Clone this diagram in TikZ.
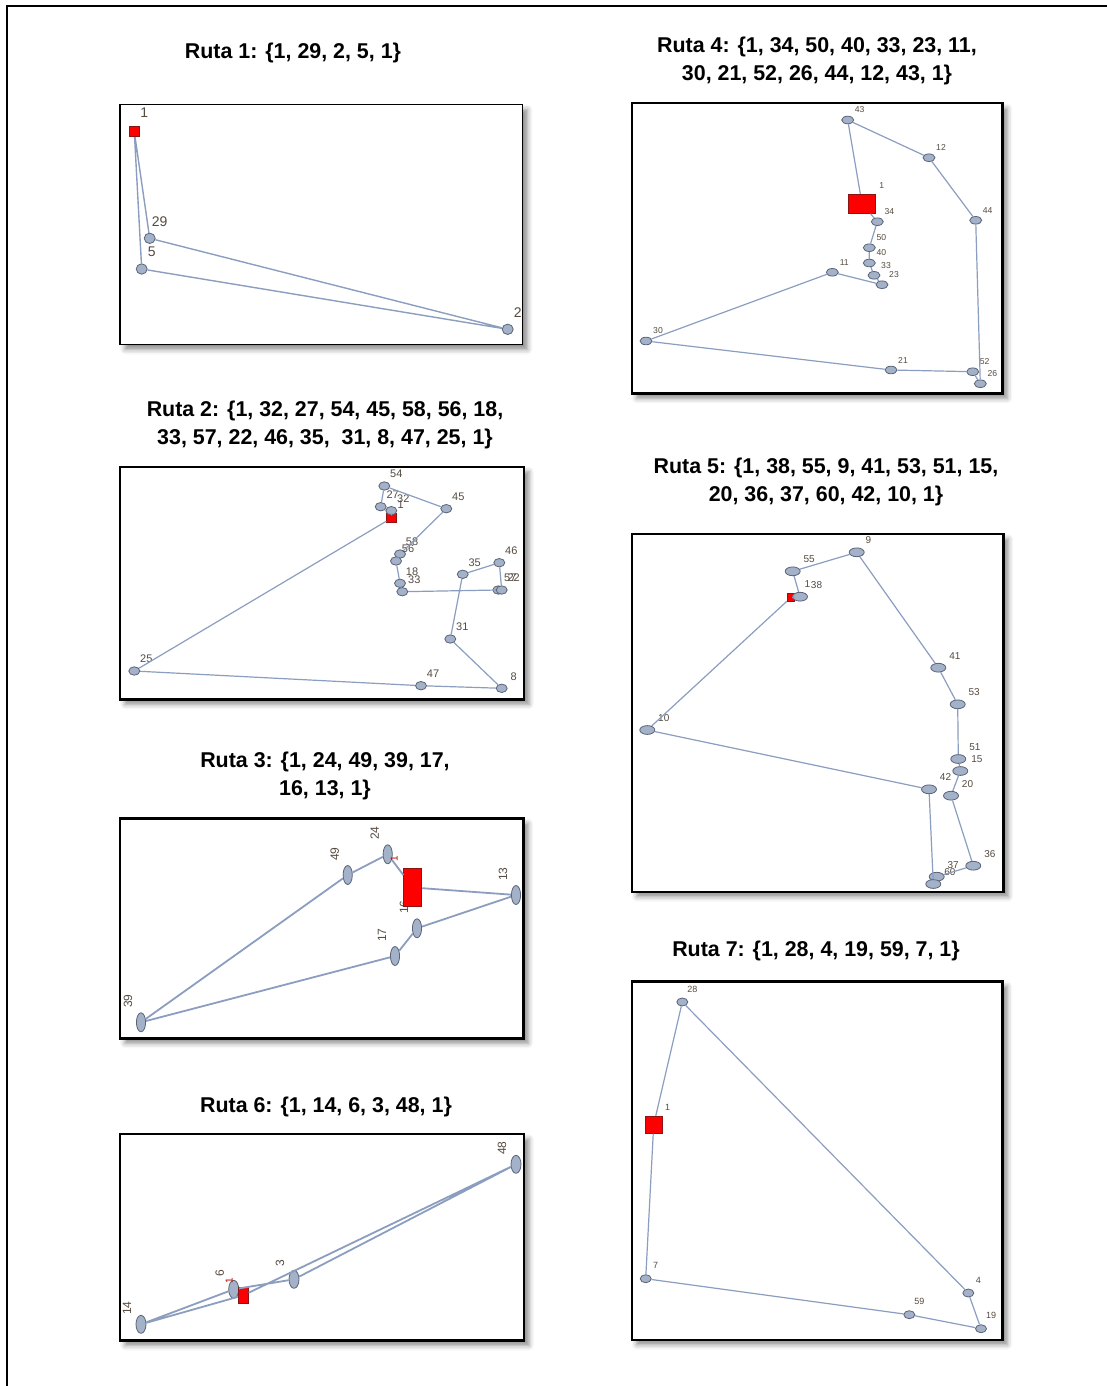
\documentclass[tikz,border=0pt]{standalone}
\usepackage{fontspec}
\setmainfont{Liberation Sans}
\usetikzlibrary{shapes.geometric,shadows.blur}

\definecolor{edgeblue}{RGB}{140,158,192}
\definecolor{vtxfill}{RGB}{163,177,201}
\definecolor{vtxline}{RGB}{90,100,118}
\definecolor{lblgray}{RGB}{85,75,65}
\definecolor{depotline}{RGB}{140,20,20}

\begin{document}
\begin{tikzpicture}[
  x=0.5pt,y=-0.5pt,
  frame/.style={draw=black,line width=1.2pt,fill=white,
    blur shadow={shadow xshift=2.5pt,shadow yshift=-2.5pt,shadow blur radius=2.5pt,shadow opacity=45}},
  title/.style={font=\bfseries\fontsize{10.7}{14}\selectfont,align=center},
  edge/.style={draw=edgeblue,line width=0.6pt},
  vtx/.style={ellipse,draw=vtxline,fill=vtxfill,line width=0.4pt,inner sep=0pt},
  depot/.style={rectangle,draw=depotline,fill=red,line width=0.4pt,inner sep=0pt},
  lbl/.style={text=lblgray,inner sep=0pt},
  % one style per route panel
  va/.style={vtx,minimum width=5.5pt,minimum height=5.2pt,
    label={[lbl,font=\fontsize{7}{7}\selectfont,xshift=5pt,yshift=8.5pt]center:#1}},
  vb/.style={vtx,minimum width=5.5pt,minimum height=4.2pt,
    label={[lbl,font=\fontsize{5.5}{5.5}\selectfont,xshift=6pt,yshift=6pt]center:#1}},
  vc/.style={vtx,minimum width=4.6pt,minimum height=9.5pt,
    label={[lbl,xshift=-6.5pt,yshift=10.5pt,rotate=90,font=\fontsize{6}{6}\selectfont]center:#1}},
  vd/.style={vtx,minimum width=6pt,minimum height=3.8pt,
    label={[lbl,font=\fontsize{4.3}{4.3}\selectfont,xshift=6pt,yshift=5pt]center:#1}},
  ve/.style={vtx,minimum width=7.5pt,minimum height=4.4pt,
    label={[lbl,font=\fontsize{5}{5}\selectfont,xshift=8.25pt,yshift=6pt]center:#1}},
  vf/.style={vtx,minimum width=5pt,minimum height=9pt,
    label={[lbl,xshift=-7pt,yshift=8pt,rotate=90,font=\fontsize{6}{6}\selectfont]center:#1}},
  vg/.style={vtx,minimum width=5.5pt,minimum height=4pt,
    label={[lbl,font=\fontsize{4.5}{4.5}\selectfont,xshift=5pt,yshift=6.5pt]center:#1}}
]
\useasboundingbox (0,0) rectangle (1107,1386);
\draw[line width=1pt] (7,1386) -- (7,6) -- (1107,6);

% Ruta 1
\node[title] (t1) at (293,53) {Ruta 1: \{1, 29, 2, 5, 1\}};
\draw[frame,line width=0.9pt] (120,104.5) rectangle (522.5,344.5);
\node[depot,minimum size=5pt,
  label={[lbl,font=\fontsize{7}{7}\selectfont,xshift=5pt,yshift=9.5pt]center:1}] (a1) at (134.3,131.7) {};
\node[va=29] (a29) at (149.7,238.3) {};
\node[va=5] (a5) at (141.7,269) {};
\node[va=2] (a2) at (507.7,329.3) {};
\draw[edge,line width=0.7pt] (a1) -- (a29) -- (a2) -- (a5) -- (a1);

% Ruta 4
\node[title] (t4) at (817,61) {Ruta 4: \{1, 34, 50, 40, 33, 23, 11,\\30, 21, 52, 26, 44, 12, 43, 1\}};
\draw[frame] (631.7,103.3) rectangle (1002.3,393.3);
\node[depot,minimum width=13.5pt,minimum height=9.5pt,
  label={[lbl,font=\fontsize{4.3}{4.3}\selectfont,xshift=9.85pt,yshift=8.9pt]center:1}] (d1) at (862,203.8) {};
\node[vd=34] (d34) at (877.3,221.7) {};
\node[vd=50] (d50) at (869.3,247.7) {};
\node[vd=40] (d40) at (869.3,263) {};
\node[vd=33] (d33) at (874,275.3) {};
\node[vd=23] (d23) at (882,284.7) {};
\node[vd=11] (d11) at (832.3,272.3) {};
\node[vd=30] (d30) at (646,341) {};
\node[vd=21] (d21) at (891,370) {};
\node[vd=52] (d52) at (972.7,371.7) {};
\node[vd=26] (d26) at (980.3,383.7) {};
\node[vd=44] (d44) at (975.7,220.3) {};
\node[vd=12] (d12) at (929,157.7) {};
\node[vd=43] (d43) at (847.7,120) {};
\draw[edge] (d1) -- (d34) -- (d50) -- (d40) -- (d33) -- (d23) -- (d11) -- (d30) -- (d21)
  -- (d52) -- (d26) -- (d44) -- (d12) -- (d43) -- (d1);

% Ruta 2
\node[title] (t2) at (325,425) {Ruta 2: \{1, 32, 27, 54, 45, 58, 56, 18,\\33, 57, 22, 46, 35,\ \ 31, 8, 47, 25, 1\}};
\draw[frame] (120,466.7) rectangle (524,699.3);
\node[depot,minimum width=5pt,minimum height=4.7pt,
  label={[lbl,font=\fontsize{5.5}{5.5}\selectfont,xshift=4.5pt,yshift=6.85pt]center:1}] (b1) at (391.7,518) {};
\node[vb=32] (b32) at (391.3,510.7) {};
\node[vb=27] (b27) at (380.7,506.7) {};
\node[vb=54] (b54) at (384.3,486) {};
\node[vb=45] (b45) at (446.3,508.7) {};
\node[vb=58] (b58) at (400,554) {};
\node[vb=56] (b56) at (396,561) {};
\node[vb=18] (b18) at (400,583.3) {};
\node[vb=33] (b33) at (402.3,591.7) {};
\node[vb=57] (b57) at (498.3,590) {};
\node[vb=22] (b22) at (501.7,590) {};
\node[vb=46] (b46) at (499.3,562.7) {};
\node[vb=35] (b35) at (462.7,574.3) {};
\node[vb=31] (b31) at (450.3,639) {};
\node[vb=8] (b8) at (501.7,688.3) {};
\node[vb=47] (b47) at (421,685.7) {};
\node[vb=25] (b25) at (134.3,671) {};
\draw[edge] (b1) -- (b32) -- (b27) -- (b54) -- (b45) -- (b58) -- (b56) -- (b18) -- (b33)
  -- (b57) -- (b22) -- (b46) -- (b35) -- (b31) -- (b8) -- (b47) -- (b25) -- (b1);

% Ruta 3
\node[title] (t3) at (325,776) {Ruta 3: \{1, 24, 49, 39, 17,\\16, 13, 1\}};
\draw[frame] (120,818.3) rectangle (523.3,1038.3);
\node[vc=24] (c24) at (387.7,854.3) {};
\node[vc=49] (c49) at (347.7,875) {};
\node[vc=39] (c39) at (141,1022.3) {};
\node[vc=17] (c17) at (395,956) {};
\node[vc=16] (c16) at (417,928.3) {};
\node[vc=13] (c13) at (516,895) {};
\node[depot,minimum width=9pt,minimum height=19pt,
  label={[text=red!75!black,inner sep=0pt,xshift=-9.25pt,yshift=14.6pt,rotate=90,font=\fontsize{5}{5}\selectfont]center:1}] (c1) at (412.8,887.5) {};
\draw[edge,line width=0.9pt] (c1) -- (c24) -- (c49) -- (c39) -- (c17) -- (c16) -- (c13) -- (c1);

% Ruta 6
\node[title] (t6) at (326,1107) {Ruta 6: \{1, 14, 6, 3, 48, 1\}};
\draw[frame] (120,1134) rectangle (524,1340.5);
\node[vf=14] (f14) at (141,1324.3) {};
\node[vf=6] (f6) at (233.7,1289.3) {};
\node[vf=3] (f3) at (294,1279.3) {};
\node[vf=48] (f48) at (516,1164.3) {};
\node[depot,minimum width=5pt,minimum height=8pt,
  label={[text=red!75!black,inner sep=0pt,xshift=-7pt,yshift=7.15pt,rotate=90,font=\fontsize{5}{5}\selectfont]center:1}] (f1) at (243.3,1295.3) {};
\draw[edge,line width=0.9pt] (f1) -- (f14) -- (f6) -- (f3) -- (f48) -- (f1);

% Ruta 5
\node[title] (t5) at (826,482) {Ruta 5: \{1, 38, 55, 9, 41, 53, 51, 15,\\20, 36, 37, 60, 42, 10, 1\}};
\draw[frame] (631.7,534) rectangle (1003.3,891.7);
\node[depot,minimum width=3.5pt,minimum height=4pt,
  label={[lbl,font=\fontsize{5}{5}\selectfont,xshift=8.4pt,yshift=6.85pt]center:1}] (e1) at (790.7,597.7) {};
\node[ve=38] (e38) at (800,596.7) {};
\node[ve=55] (e55) at (792.7,571.3) {};
\node[vtx,minimum width=7.5pt,minimum height=4.4pt,
  label={[lbl,font=\fontsize{5}{5}\selectfont,xshift=5.8pt,yshift=6.1pt]center:9}] (e9) at (856.7,552.3) {};
\node[ve=41] (e41) at (938.3,667.7) {};
\node[ve=53] (e53) at (957.7,704.3) {};
\node[ve=51] (e51) at (958.3,759) {};
\node[ve=15] (e15) at (960.3,771) {};
\node[ve=20] (e20) at (951,795.7) {};
\node[ve=36] (e36) at (973.3,865.7) {};
\node[ve=37] (e37) at (936.7,876.7) {};
\node[ve=60] (e60) at (933.3,884) {};
\node[ve=42] (e42) at (929,789.3) {};
\node[ve=10] (e10) at (647.3,730) {};
\draw[edge] (e1) -- (e38) -- (e55) -- (e9) -- (e41) -- (e53) -- (e51) -- (e15) -- (e20)
  -- (e36) -- (e37) -- (e60) -- (e42) -- (e10) -- (e1);

% Ruta 7
\node[title] (t7) at (816,951) {Ruta 7: \{1, 28, 4, 19, 59, 7, 1\}};
\draw[frame] (631.7,981.3) rectangle (1002.3,1339.7);
\node[depot,minimum size=8.5pt,
  label={[lbl,font=\fontsize{4.5}{4.5}\selectfont,xshift=7pt,yshift=8.7pt]center:1}] (g1) at (653.7,1124.7) {};
\node[vg=28] (g28) at (682.3,1002) {};
\node[vg=4] (g4) at (968.3,1293) {};
\node[vg=19] (g19) at (981,1328.7) {};
\node[vg=59] (g59) at (909.3,1314.7) {};
\node[vg=7] (g7) at (645.7,1278.7) {};
\draw[edge] (g1) -- (g28) -- (g4) -- (g19) -- (g59) -- (g7) -- (g1);
\end{tikzpicture}
\end{document}
